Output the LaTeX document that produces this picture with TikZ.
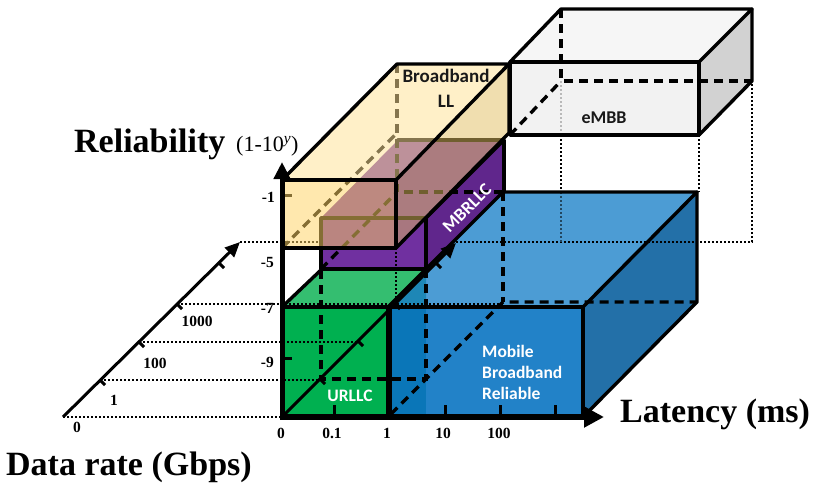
\documentclass[tikz,border=0pt]{standalone}
\usepackage{fontspec}
\setmainfont{Liberation Serif}
\newfontfamily\calfont{Carlito}
\usetikzlibrary{arrows.meta}
\definecolor{gfront}{RGB}{0,176,80}
\definecolor{gtop}{RGB}{52,190,112}
\definecolor{bfront}{RGB}{34,130,200}
\definecolor{btop}{RGB}{76,156,212}
\definecolor{bside}{RGB}{35,112,168}
\definecolor{bstrip}{RGB}{10,118,184}
\definecolor{bteal}{RGB}{30,135,182}
\definecolor{pfront}{RGB}{112,48,160}
\definecolor{ptop}{RGB}{118,58,160}
\definecolor{pside}{RGB}{96,38,140}
\definecolor{yfront}{RGB}{255,211,100}
\definecolor{ytop}{RGB}{255,226,150}
\definecolor{yside}{RGB}{225,190,95}
\definecolor{efront}{RGB}{242,242,242}
\definecolor{etop}{RGB}{246,246,246}
\definecolor{eside}{RGB}{210,210,210}
\definecolor{txt}{RGB}{25,25,25}
\tikzset{
  edge/.style={line width=3.4pt, line join=round, line cap=round},
  hid/.style={line width=3.4pt, dash pattern=on 9pt off 6pt},
  dotl/.style={line width=1.7pt, dash pattern=on 1.7pt off 2.3pt},
  tk/.style={line width=3pt},
  ticklab/.style={font=\bfseries\fontsize{15.5}{15.5}\selectfont, inner sep=0pt},
  title/.style={font=\bfseries\fontsize{34}{34}\selectfont, inner sep=0pt},
  boxlab/.style={font=\calfont\bfseries\fontsize{18}{25}\selectfont, align=center, inner sep=0pt},
}
\begin{document}
\begin{tikzpicture}[x=1pt,y=-1pt]
\useasboundingbox (0,0) rectangle (817,490);

% ---- green and blue fills
\fill[gfront] (282,307) rectangle (388,417);
\fill[gtop] (282,307) -- (322,269) -- (426,269) -- (388,307) -- cycle;
\fill[btop] (388,307) -- (503,192) -- (697,192) -- (583,307) -- cycle;
\fill[bside] (583,307) -- (697,192) -- (697,302) -- (583,417) -- cycle;
\fill[bfront] (388,307) rectangle (583,417);
\fill[bstrip] (388,307) rectangle (426,417);
\fill[bteal] (388,307) -- (426,269) -- (426,307) -- cycle;

% ---- purple box
\fill[ptop] (321,218) -- (398,140) -- (504,140) -- (426,218) -- cycle;
\fill[pside] (426,218) -- (504,140) -- (504,192) -- (426,269) -- cycle;
\fill[pfront] (321,218) rectangle (426,269);
\draw[edge] (321,218) rectangle (426,269);
\draw[edge] (398,140) -- (504,140) -- (504,192);
\draw[edge] (426,218) -- (504,140);
\draw[hid] (282,248) -- (397,133);
\draw[hid] (397,64) -- (397,192) -- (504,192);
\draw[hid] (321,269) -- (397,192);
\draw[dotl] (396,192) -- (396,304);
\draw[dotl] (240,242) -- (321,242);
\draw[tk] (282,195) -- (292,195);

% ---- yellow box (translucent)
\fill[yfront, opacity=0.52] (282,180) rectangle (396,248);
\fill[ytop, opacity=0.52] (282,180) -- (397,64) -- (509,64) -- (396,180) -- cycle;
\fill[yside, opacity=0.5] (396,180) -- (509,64) -- (509,133) -- (396,248) -- cycle;

% ---- eMBB box
\fill[etop] (510,62) -- (561,9) -- (752,9) -- (699,62) -- cycle;
\fill[eside] (699,62) -- (752,9) -- (752,81) -- (699,135) -- cycle;
\fill[efront] (510,62) rectangle (699,135);

% ---- hidden edges
\draw[hid] (321,270) -- (321,379) -- (426,379) -- (426,270);
\draw[hid] (391,414) -- (503,302) -- (697,302);
\draw[hid] (503,192) -- (503,302);
\draw[hid] (561,9) -- (561,81) -- (752,81);
\draw[hid] (510,135) -- (561,81);

% ---- dotted projection lines
\draw[dotl] (63,417) -- (282,417);
\draw[dotl] (100,380) -- (319,380);
\draw[dotl] (139,342) -- (357,342);
\draw[dotl] (177,304) -- (503,304);
\draw[dotl] (456,242) -- (752,242) -- (752,81);
\draw[dotl] (699,135) -- (699,192);
\draw[dotl, gray!55] (561,81) -- (561,135);
\draw[dotl] (561,135) -- (561,192);
\draw[dotl, black!55!btop] (561,192) -- (561,242);

% ---- visible outlines
\draw[edge] (282,307) rectangle (388,417);
\draw[edge] (282,307) -- (322,269) -- (426,269);
\draw[edge] (388,307) rectangle (583,417);
\draw[edge] (388,307) -- (503,192) -- (697,192) -- (583,307);
\draw[edge] (697,192) -- (697,302) -- (583,417);
\draw[edge] (282,180) rectangle (396,248);
\draw[edge] (282,180) -- (397,64) -- (509,64) -- (396,180);
\draw[edge] (509,64) -- (509,133) -- (396,248);
\draw[edge] (510,62) rectangle (699,135);
\draw[edge] (510,62) -- (561,9) -- (752,9) -- (699,62);
\draw[edge] (752,9) -- (752,81) -- (699,135);
\draw[line width=5pt] (389,307) -- (389,417);

% ---- axes
\draw[line width=5pt, -{Triangle[length=17pt,width=16pt]}] (282,419) -- (282,162);
\draw[line width=5.5pt, -{Triangle[length=20pt,width=20pt]}] (280,417) -- (604,417);
\draw[line width=3pt, -{Triangle[length=15pt,width=13pt]}] (282,417) -- (456,243);
\draw[line width=3pt, -{Triangle[length=15pt,width=13pt]}] (63,417) -- (240,242);
\foreach \t in {38,76,113,154} \draw[tk] (282+\t,417-\t) -- ++(5,5);
\foreach \p in {(100,380),(139,342),(177,304),(219,263)} \draw[tk] \p -- ++(5,5);
\foreach \x in {334,445,500,555} \draw[tk] (\x,417) -- (\x,405);
\draw[tk] (282,358) -- (292,358);

% ---- titles
\node[title, anchor=base west] (trel) at (74,152) {Reliability};
\node[font=\fontsize{22}{22}\selectfont, inner sep=0pt, anchor=base west] (trelu) at (236,151) {(1-10\textsuperscript{\itshape y})};
\node[title, anchor=base west] (tdr) at (6,475) {Data rate (Gbps)};
\node[title, anchor=base west] (tlat) at (620,422) {Latency (ms)};

% ---- tick labels
\node[ticklab] (l0) at (281,433) {0};
\node[ticklab] (l01) at (332,433) {0.1};
\node[ticklab] (l1) at (387,433) {1};
\node[ticklab] (l10) at (443,433) {10};
\node[ticklab] (l100) at (499,433) {100};
\node[ticklab, anchor=east] (r1) at (275,197) {-1};
\node[ticklab, anchor=east] (r5) at (274,262) {-5};
\node[ticklab, anchor=east] (r7) at (274,308) {-7};
\node[ticklab, anchor=east] (r9) at (274,362) {-9};
\node[ticklab] (d0) at (77,427) {0};
\node[ticklab] (d1) at (114,400) {1};
\node[ticklab] (d100) at (155,363) {100};
\node[ticklab] (d1000) at (197,321) {1000};

% ---- box labels
\node[boxlab, text=txt, font=\calfont\bfseries\fontsize{19}{25}\selectfont] (bbll) at (446,88) {Broadband\\LL};
\node[boxlab, text=txt] (embb) at (604,118) {eMBB};
\node[boxlab, text=white, rotate=45] (mbrllc) at (467,208) {MBRLLC};
\node[boxlab, text=white, font=\calfont\bfseries\fontsize{17.5}{21}\selectfont] (urllc) at (350,396) {URLLC};
\node[boxlab, text=white, align=left, anchor=west, font=\calfont\bfseries\fontsize{17.5}{21}\selectfont] (mbr) at (482,372) {Mobile\\Broadband\\Reliable};
\end{tikzpicture}
\end{document}
